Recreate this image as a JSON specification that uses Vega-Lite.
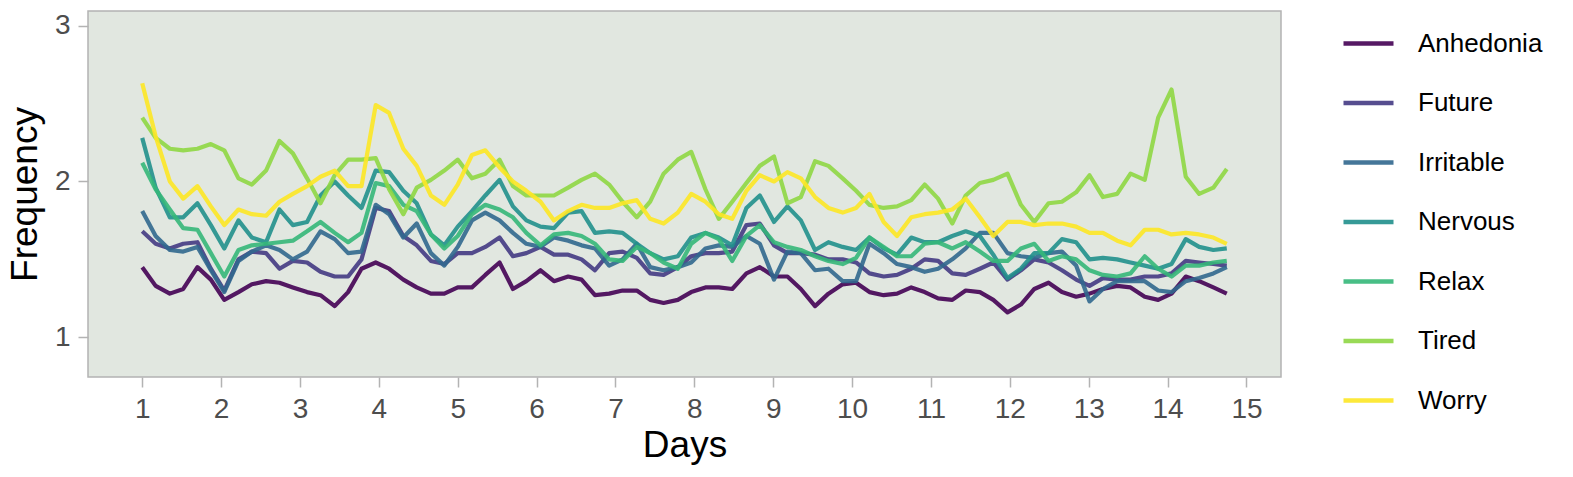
{
  "$schema": "https://vega.github.io/schema/vega-lite/v6.json",
  "width": 1193,
  "height": 366,
  "autosize": "none",
  "padding": {"left": 88, "top": 11, "right": 292, "bottom": 100},
  "background": "white",
  "config": {
    "font": "Liberation Sans",
    "view": {"fill": "#e1e7e0", "stroke": "#b3b3b3", "strokeWidth": 1.5}
  },
  "data": {"values": [
{"day":1.00,"item":"Anhedonia","freq":1.45},{"day":1.17,"item":"Anhedonia","freq":1.33},{"day":1.35,"item":"Anhedonia","freq":1.28},{"day":1.52,"item":"Anhedonia","freq":1.31},{"day":1.70,"item":"Anhedonia","freq":1.45},{"day":1.87,"item":"Anhedonia","freq":1.37},{"day":2.04,"item":"Anhedonia","freq":1.24},{"day":2.22,"item":"Anhedonia","freq":1.29},{"day":2.39,"item":"Anhedonia","freq":1.34},{"day":2.57,"item":"Anhedonia","freq":1.36},{"day":2.74,"item":"Anhedonia","freq":1.35},{"day":2.91,"item":"Anhedonia","freq":1.32},{"day":3.09,"item":"Anhedonia","freq":1.29},{"day":3.26,"item":"Anhedonia","freq":1.27},{"day":3.44,"item":"Anhedonia","freq":1.20},{"day":3.61,"item":"Anhedonia","freq":1.29},{"day":3.78,"item":"Anhedonia","freq":1.44},{"day":3.96,"item":"Anhedonia","freq":1.48},{"day":4.13,"item":"Anhedonia","freq":1.44},{"day":4.31,"item":"Anhedonia","freq":1.37},{"day":4.48,"item":"Anhedonia","freq":1.32},{"day":4.66,"item":"Anhedonia","freq":1.28},{"day":4.83,"item":"Anhedonia","freq":1.28},{"day":5.00,"item":"Anhedonia","freq":1.32},{"day":5.18,"item":"Anhedonia","freq":1.32},{"day":5.35,"item":"Anhedonia","freq":1.40},{"day":5.53,"item":"Anhedonia","freq":1.48},{"day":5.70,"item":"Anhedonia","freq":1.31},{"day":5.87,"item":"Anhedonia","freq":1.36},{"day":6.05,"item":"Anhedonia","freq":1.43},{"day":6.22,"item":"Anhedonia","freq":1.36},{"day":6.40,"item":"Anhedonia","freq":1.39},{"day":6.57,"item":"Anhedonia","freq":1.37},{"day":6.74,"item":"Anhedonia","freq":1.27},{"day":6.92,"item":"Anhedonia","freq":1.28},{"day":7.09,"item":"Anhedonia","freq":1.30},{"day":7.27,"item":"Anhedonia","freq":1.30},{"day":7.44,"item":"Anhedonia","freq":1.24},{"day":7.61,"item":"Anhedonia","freq":1.22},{"day":7.79,"item":"Anhedonia","freq":1.24},{"day":7.96,"item":"Anhedonia","freq":1.29},{"day":8.14,"item":"Anhedonia","freq":1.32},{"day":8.31,"item":"Anhedonia","freq":1.32},{"day":8.48,"item":"Anhedonia","freq":1.31},{"day":8.66,"item":"Anhedonia","freq":1.41},{"day":8.83,"item":"Anhedonia","freq":1.45},{"day":9.01,"item":"Anhedonia","freq":1.39},{"day":9.18,"item":"Anhedonia","freq":1.39},{"day":9.35,"item":"Anhedonia","freq":1.31},{"day":9.53,"item":"Anhedonia","freq":1.20},{"day":9.70,"item":"Anhedonia","freq":1.28},{"day":9.88,"item":"Anhedonia","freq":1.34},{"day":10.05,"item":"Anhedonia","freq":1.35},{"day":10.22,"item":"Anhedonia","freq":1.29},{"day":10.40,"item":"Anhedonia","freq":1.27},{"day":10.57,"item":"Anhedonia","freq":1.28},{"day":10.75,"item":"Anhedonia","freq":1.32},{"day":10.92,"item":"Anhedonia","freq":1.29},{"day":11.09,"item":"Anhedonia","freq":1.25},{"day":11.27,"item":"Anhedonia","freq":1.24},{"day":11.44,"item":"Anhedonia","freq":1.30},{"day":11.62,"item":"Anhedonia","freq":1.29},{"day":11.79,"item":"Anhedonia","freq":1.24},{"day":11.97,"item":"Anhedonia","freq":1.16},{"day":12.14,"item":"Anhedonia","freq":1.21},{"day":12.31,"item":"Anhedonia","freq":1.31},{"day":12.49,"item":"Anhedonia","freq":1.35},{"day":12.66,"item":"Anhedonia","freq":1.29},{"day":12.84,"item":"Anhedonia","freq":1.26},{"day":13.01,"item":"Anhedonia","freq":1.28},{"day":13.18,"item":"Anhedonia","freq":1.31},{"day":13.36,"item":"Anhedonia","freq":1.33},{"day":13.53,"item":"Anhedonia","freq":1.32},{"day":13.71,"item":"Anhedonia","freq":1.26},{"day":13.88,"item":"Anhedonia","freq":1.24},{"day":14.05,"item":"Anhedonia","freq":1.28},{"day":14.23,"item":"Anhedonia","freq":1.39},{"day":14.40,"item":"Anhedonia","freq":1.36},{"day":14.58,"item":"Anhedonia","freq":1.32},{"day":14.75,"item":"Anhedonia","freq":1.28},
{"day":1.00,"item":"Future","freq":1.68},{"day":1.17,"item":"Future","freq":1.60},{"day":1.35,"item":"Future","freq":1.57},{"day":1.52,"item":"Future","freq":1.60},{"day":1.70,"item":"Future","freq":1.61},{"day":1.87,"item":"Future","freq":1.44},{"day":2.04,"item":"Future","freq":1.30},{"day":2.22,"item":"Future","freq":1.50},{"day":2.39,"item":"Future","freq":1.55},{"day":2.57,"item":"Future","freq":1.54},{"day":2.74,"item":"Future","freq":1.44},{"day":2.91,"item":"Future","freq":1.49},{"day":3.09,"item":"Future","freq":1.48},{"day":3.26,"item":"Future","freq":1.42},{"day":3.44,"item":"Future","freq":1.39},{"day":3.61,"item":"Future","freq":1.39},{"day":3.78,"item":"Future","freq":1.50},{"day":3.96,"item":"Future","freq":1.83},{"day":4.13,"item":"Future","freq":1.81},{"day":4.31,"item":"Future","freq":1.65},{"day":4.48,"item":"Future","freq":1.59},{"day":4.66,"item":"Future","freq":1.49},{"day":4.83,"item":"Future","freq":1.47},{"day":5.00,"item":"Future","freq":1.54},{"day":5.18,"item":"Future","freq":1.54},{"day":5.35,"item":"Future","freq":1.58},{"day":5.53,"item":"Future","freq":1.64},{"day":5.70,"item":"Future","freq":1.52},{"day":5.87,"item":"Future","freq":1.54},{"day":6.05,"item":"Future","freq":1.58},{"day":6.22,"item":"Future","freq":1.53},{"day":6.40,"item":"Future","freq":1.53},{"day":6.57,"item":"Future","freq":1.50},{"day":6.74,"item":"Future","freq":1.43},{"day":6.92,"item":"Future","freq":1.54},{"day":7.09,"item":"Future","freq":1.55},{"day":7.27,"item":"Future","freq":1.51},{"day":7.44,"item":"Future","freq":1.41},{"day":7.61,"item":"Future","freq":1.40},{"day":7.79,"item":"Future","freq":1.45},{"day":7.96,"item":"Future","freq":1.52},{"day":8.14,"item":"Future","freq":1.54},{"day":8.31,"item":"Future","freq":1.54},{"day":8.48,"item":"Future","freq":1.55},{"day":8.66,"item":"Future","freq":1.72},{"day":8.83,"item":"Future","freq":1.73},{"day":9.01,"item":"Future","freq":1.59},{"day":9.18,"item":"Future","freq":1.54},{"day":9.35,"item":"Future","freq":1.54},{"day":9.53,"item":"Future","freq":1.53},{"day":9.70,"item":"Future","freq":1.50},{"day":9.88,"item":"Future","freq":1.50},{"day":10.05,"item":"Future","freq":1.48},{"day":10.22,"item":"Future","freq":1.41},{"day":10.40,"item":"Future","freq":1.39},{"day":10.57,"item":"Future","freq":1.40},{"day":10.75,"item":"Future","freq":1.44},{"day":10.92,"item":"Future","freq":1.50},{"day":11.09,"item":"Future","freq":1.49},{"day":11.27,"item":"Future","freq":1.41},{"day":11.44,"item":"Future","freq":1.40},{"day":11.62,"item":"Future","freq":1.44},{"day":11.79,"item":"Future","freq":1.48},{"day":11.97,"item":"Future","freq":1.37},{"day":12.14,"item":"Future","freq":1.43},{"day":12.31,"item":"Future","freq":1.50},{"day":12.49,"item":"Future","freq":1.48},{"day":12.66,"item":"Future","freq":1.43},{"day":12.84,"item":"Future","freq":1.37},{"day":13.01,"item":"Future","freq":1.33},{"day":13.18,"item":"Future","freq":1.38},{"day":13.36,"item":"Future","freq":1.37},{"day":13.53,"item":"Future","freq":1.37},{"day":13.71,"item":"Future","freq":1.39},{"day":13.88,"item":"Future","freq":1.39},{"day":14.05,"item":"Future","freq":1.41},{"day":14.23,"item":"Future","freq":1.49},{"day":14.40,"item":"Future","freq":1.48},{"day":14.58,"item":"Future","freq":1.47},{"day":14.75,"item":"Future","freq":1.46},
{"day":1.00,"item":"Irritable","freq":1.81},{"day":1.17,"item":"Irritable","freq":1.65},{"day":1.35,"item":"Irritable","freq":1.56},{"day":1.52,"item":"Irritable","freq":1.55},{"day":1.70,"item":"Irritable","freq":1.58},{"day":1.87,"item":"Irritable","freq":1.43},{"day":2.04,"item":"Irritable","freq":1.29},{"day":2.22,"item":"Irritable","freq":1.49},{"day":2.39,"item":"Irritable","freq":1.55},{"day":2.57,"item":"Irritable","freq":1.59},{"day":2.74,"item":"Irritable","freq":1.56},{"day":2.91,"item":"Irritable","freq":1.50},{"day":3.09,"item":"Irritable","freq":1.55},{"day":3.26,"item":"Irritable","freq":1.68},{"day":3.44,"item":"Irritable","freq":1.63},{"day":3.61,"item":"Irritable","freq":1.54},{"day":3.78,"item":"Irritable","freq":1.55},{"day":3.96,"item":"Irritable","freq":1.85},{"day":4.13,"item":"Irritable","freq":1.79},{"day":4.31,"item":"Irritable","freq":1.64},{"day":4.48,"item":"Irritable","freq":1.73},{"day":4.66,"item":"Irritable","freq":1.54},{"day":4.83,"item":"Irritable","freq":1.46},{"day":5.00,"item":"Irritable","freq":1.58},{"day":5.18,"item":"Irritable","freq":1.75},{"day":5.35,"item":"Irritable","freq":1.80},{"day":5.53,"item":"Irritable","freq":1.75},{"day":5.70,"item":"Irritable","freq":1.67},{"day":5.87,"item":"Irritable","freq":1.60},{"day":6.05,"item":"Irritable","freq":1.58},{"day":6.22,"item":"Irritable","freq":1.64},{"day":6.40,"item":"Irritable","freq":1.62},{"day":6.57,"item":"Irritable","freq":1.59},{"day":6.74,"item":"Irritable","freq":1.57},{"day":6.92,"item":"Irritable","freq":1.46},{"day":7.09,"item":"Irritable","freq":1.50},{"day":7.27,"item":"Irritable","freq":1.60},{"day":7.44,"item":"Irritable","freq":1.45},{"day":7.61,"item":"Irritable","freq":1.43},{"day":7.79,"item":"Irritable","freq":1.45},{"day":7.96,"item":"Irritable","freq":1.48},{"day":8.14,"item":"Irritable","freq":1.57},{"day":8.31,"item":"Irritable","freq":1.59},{"day":8.48,"item":"Irritable","freq":1.58},{"day":8.66,"item":"Irritable","freq":1.65},{"day":8.83,"item":"Irritable","freq":1.60},{"day":9.01,"item":"Irritable","freq":1.37},{"day":9.18,"item":"Irritable","freq":1.55},{"day":9.35,"item":"Irritable","freq":1.54},{"day":9.53,"item":"Irritable","freq":1.43},{"day":9.70,"item":"Irritable","freq":1.44},{"day":9.88,"item":"Irritable","freq":1.36},{"day":10.05,"item":"Irritable","freq":1.36},{"day":10.22,"item":"Irritable","freq":1.60},{"day":10.40,"item":"Irritable","freq":1.54},{"day":10.57,"item":"Irritable","freq":1.47},{"day":10.75,"item":"Irritable","freq":1.45},{"day":10.92,"item":"Irritable","freq":1.42},{"day":11.09,"item":"Irritable","freq":1.44},{"day":11.27,"item":"Irritable","freq":1.50},{"day":11.44,"item":"Irritable","freq":1.57},{"day":11.62,"item":"Irritable","freq":1.67},{"day":11.79,"item":"Irritable","freq":1.67},{"day":11.97,"item":"Irritable","freq":1.54},{"day":12.14,"item":"Irritable","freq":1.52},{"day":12.31,"item":"Irritable","freq":1.51},{"day":12.49,"item":"Irritable","freq":1.54},{"day":12.66,"item":"Irritable","freq":1.55},{"day":12.84,"item":"Irritable","freq":1.46},{"day":13.01,"item":"Irritable","freq":1.23},{"day":13.18,"item":"Irritable","freq":1.31},{"day":13.36,"item":"Irritable","freq":1.36},{"day":13.53,"item":"Irritable","freq":1.36},{"day":13.71,"item":"Irritable","freq":1.36},{"day":13.88,"item":"Irritable","freq":1.30},{"day":14.05,"item":"Irritable","freq":1.29},{"day":14.23,"item":"Irritable","freq":1.36},{"day":14.40,"item":"Irritable","freq":1.38},{"day":14.58,"item":"Irritable","freq":1.41},{"day":14.75,"item":"Irritable","freq":1.45},
{"day":1.00,"item":"Nervous","freq":2.28},{"day":1.17,"item":"Nervous","freq":1.96},{"day":1.35,"item":"Nervous","freq":1.77},{"day":1.52,"item":"Nervous","freq":1.77},{"day":1.70,"item":"Nervous","freq":1.86},{"day":1.87,"item":"Nervous","freq":1.72},{"day":2.04,"item":"Nervous","freq":1.57},{"day":2.22,"item":"Nervous","freq":1.75},{"day":2.39,"item":"Nervous","freq":1.64},{"day":2.57,"item":"Nervous","freq":1.61},{"day":2.74,"item":"Nervous","freq":1.82},{"day":2.91,"item":"Nervous","freq":1.72},{"day":3.09,"item":"Nervous","freq":1.74},{"day":3.26,"item":"Nervous","freq":1.91},{"day":3.44,"item":"Nervous","freq":2.00},{"day":3.61,"item":"Nervous","freq":1.91},{"day":3.78,"item":"Nervous","freq":1.83},{"day":3.96,"item":"Nervous","freq":2.07},{"day":4.13,"item":"Nervous","freq":2.06},{"day":4.31,"item":"Nervous","freq":1.94},{"day":4.48,"item":"Nervous","freq":1.86},{"day":4.66,"item":"Nervous","freq":1.66},{"day":4.83,"item":"Nervous","freq":1.59},{"day":5.00,"item":"Nervous","freq":1.71},{"day":5.18,"item":"Nervous","freq":1.81},{"day":5.35,"item":"Nervous","freq":1.91},{"day":5.53,"item":"Nervous","freq":2.01},{"day":5.70,"item":"Nervous","freq":1.84},{"day":5.87,"item":"Nervous","freq":1.75},{"day":6.05,"item":"Nervous","freq":1.71},{"day":6.22,"item":"Nervous","freq":1.70},{"day":6.40,"item":"Nervous","freq":1.80},{"day":6.57,"item":"Nervous","freq":1.81},{"day":6.74,"item":"Nervous","freq":1.67},{"day":6.92,"item":"Nervous","freq":1.68},{"day":7.09,"item":"Nervous","freq":1.67},{"day":7.27,"item":"Nervous","freq":1.60},{"day":7.44,"item":"Nervous","freq":1.54},{"day":7.61,"item":"Nervous","freq":1.50},{"day":7.79,"item":"Nervous","freq":1.52},{"day":7.96,"item":"Nervous","freq":1.64},{"day":8.14,"item":"Nervous","freq":1.67},{"day":8.31,"item":"Nervous","freq":1.64},{"day":8.48,"item":"Nervous","freq":1.59},{"day":8.66,"item":"Nervous","freq":1.83},{"day":8.83,"item":"Nervous","freq":1.91},{"day":9.01,"item":"Nervous","freq":1.74},{"day":9.18,"item":"Nervous","freq":1.84},{"day":9.35,"item":"Nervous","freq":1.75},{"day":9.53,"item":"Nervous","freq":1.56},{"day":9.70,"item":"Nervous","freq":1.61},{"day":9.88,"item":"Nervous","freq":1.58},{"day":10.05,"item":"Nervous","freq":1.56},{"day":10.22,"item":"Nervous","freq":1.64},{"day":10.40,"item":"Nervous","freq":1.57},{"day":10.57,"item":"Nervous","freq":1.53},{"day":10.75,"item":"Nervous","freq":1.64},{"day":10.92,"item":"Nervous","freq":1.61},{"day":11.09,"item":"Nervous","freq":1.61},{"day":11.27,"item":"Nervous","freq":1.65},{"day":11.44,"item":"Nervous","freq":1.68},{"day":11.62,"item":"Nervous","freq":1.65},{"day":11.79,"item":"Nervous","freq":1.53},{"day":11.97,"item":"Nervous","freq":1.38},{"day":12.14,"item":"Nervous","freq":1.44},{"day":12.31,"item":"Nervous","freq":1.54},{"day":12.49,"item":"Nervous","freq":1.54},{"day":12.66,"item":"Nervous","freq":1.63},{"day":12.84,"item":"Nervous","freq":1.61},{"day":13.01,"item":"Nervous","freq":1.50},{"day":13.18,"item":"Nervous","freq":1.51},{"day":13.36,"item":"Nervous","freq":1.50},{"day":13.53,"item":"Nervous","freq":1.48},{"day":13.71,"item":"Nervous","freq":1.46},{"day":13.88,"item":"Nervous","freq":1.44},{"day":14.05,"item":"Nervous","freq":1.47},{"day":14.23,"item":"Nervous","freq":1.63},{"day":14.40,"item":"Nervous","freq":1.58},{"day":14.58,"item":"Nervous","freq":1.56},{"day":14.75,"item":"Nervous","freq":1.57},
{"day":1.00,"item":"Relax","freq":2.12},{"day":1.17,"item":"Relax","freq":1.95},{"day":1.35,"item":"Relax","freq":1.82},{"day":1.52,"item":"Relax","freq":1.70},{"day":1.70,"item":"Relax","freq":1.69},{"day":1.87,"item":"Relax","freq":1.54},{"day":2.04,"item":"Relax","freq":1.39},{"day":2.22,"item":"Relax","freq":1.56},{"day":2.39,"item":"Relax","freq":1.59},{"day":2.57,"item":"Relax","freq":1.60},{"day":2.74,"item":"Relax","freq":1.61},{"day":2.91,"item":"Relax","freq":1.62},{"day":3.09,"item":"Relax","freq":1.68},{"day":3.26,"item":"Relax","freq":1.74},{"day":3.44,"item":"Relax","freq":1.67},{"day":3.61,"item":"Relax","freq":1.61},{"day":3.78,"item":"Relax","freq":1.67},{"day":3.96,"item":"Relax","freq":1.99},{"day":4.13,"item":"Relax","freq":1.97},{"day":4.31,"item":"Relax","freq":1.85},{"day":4.48,"item":"Relax","freq":1.81},{"day":4.66,"item":"Relax","freq":1.66},{"day":4.83,"item":"Relax","freq":1.57},{"day":5.00,"item":"Relax","freq":1.65},{"day":5.18,"item":"Relax","freq":1.79},{"day":5.35,"item":"Relax","freq":1.85},{"day":5.53,"item":"Relax","freq":1.82},{"day":5.70,"item":"Relax","freq":1.77},{"day":5.87,"item":"Relax","freq":1.67},{"day":6.05,"item":"Relax","freq":1.59},{"day":6.22,"item":"Relax","freq":1.66},{"day":6.40,"item":"Relax","freq":1.67},{"day":6.57,"item":"Relax","freq":1.65},{"day":6.74,"item":"Relax","freq":1.60},{"day":6.92,"item":"Relax","freq":1.50},{"day":7.09,"item":"Relax","freq":1.49},{"day":7.27,"item":"Relax","freq":1.58},{"day":7.44,"item":"Relax","freq":1.54},{"day":7.61,"item":"Relax","freq":1.48},{"day":7.79,"item":"Relax","freq":1.44},{"day":7.96,"item":"Relax","freq":1.60},{"day":8.14,"item":"Relax","freq":1.67},{"day":8.31,"item":"Relax","freq":1.63},{"day":8.48,"item":"Relax","freq":1.49},{"day":8.66,"item":"Relax","freq":1.65},{"day":8.83,"item":"Relax","freq":1.72},{"day":9.01,"item":"Relax","freq":1.61},{"day":9.18,"item":"Relax","freq":1.58},{"day":9.35,"item":"Relax","freq":1.56},{"day":9.53,"item":"Relax","freq":1.52},{"day":9.70,"item":"Relax","freq":1.49},{"day":9.88,"item":"Relax","freq":1.47},{"day":10.05,"item":"Relax","freq":1.51},{"day":10.22,"item":"Relax","freq":1.64},{"day":10.40,"item":"Relax","freq":1.58},{"day":10.57,"item":"Relax","freq":1.52},{"day":10.75,"item":"Relax","freq":1.52},{"day":10.92,"item":"Relax","freq":1.60},{"day":11.09,"item":"Relax","freq":1.61},{"day":11.27,"item":"Relax","freq":1.57},{"day":11.44,"item":"Relax","freq":1.61},{"day":11.62,"item":"Relax","freq":1.55},{"day":11.79,"item":"Relax","freq":1.49},{"day":11.97,"item":"Relax","freq":1.49},{"day":12.14,"item":"Relax","freq":1.57},{"day":12.31,"item":"Relax","freq":1.60},{"day":12.49,"item":"Relax","freq":1.49},{"day":12.66,"item":"Relax","freq":1.52},{"day":12.84,"item":"Relax","freq":1.50},{"day":13.01,"item":"Relax","freq":1.43},{"day":13.18,"item":"Relax","freq":1.40},{"day":13.36,"item":"Relax","freq":1.39},{"day":13.53,"item":"Relax","freq":1.41},{"day":13.71,"item":"Relax","freq":1.52},{"day":13.88,"item":"Relax","freq":1.44},{"day":14.05,"item":"Relax","freq":1.39},{"day":14.23,"item":"Relax","freq":1.46},{"day":14.40,"item":"Relax","freq":1.46},{"day":14.58,"item":"Relax","freq":1.48},{"day":14.75,"item":"Relax","freq":1.49},
{"day":1.00,"item":"Tired","freq":2.41},{"day":1.17,"item":"Tired","freq":2.28},{"day":1.35,"item":"Tired","freq":2.21},{"day":1.52,"item":"Tired","freq":2.20},{"day":1.70,"item":"Tired","freq":2.21},{"day":1.87,"item":"Tired","freq":2.24},{"day":2.04,"item":"Tired","freq":2.20},{"day":2.22,"item":"Tired","freq":2.02},{"day":2.39,"item":"Tired","freq":1.98},{"day":2.57,"item":"Tired","freq":2.07},{"day":2.74,"item":"Tired","freq":2.26},{"day":2.91,"item":"Tired","freq":2.18},{"day":3.09,"item":"Tired","freq":2.02},{"day":3.26,"item":"Tired","freq":1.86},{"day":3.44,"item":"Tired","freq":2.04},{"day":3.61,"item":"Tired","freq":2.14},{"day":3.78,"item":"Tired","freq":2.14},{"day":3.96,"item":"Tired","freq":2.15},{"day":4.13,"item":"Tired","freq":1.95},{"day":4.31,"item":"Tired","freq":1.79},{"day":4.48,"item":"Tired","freq":1.96},{"day":4.66,"item":"Tired","freq":2.01},{"day":4.83,"item":"Tired","freq":2.07},{"day":5.00,"item":"Tired","freq":2.14},{"day":5.18,"item":"Tired","freq":2.02},{"day":5.35,"item":"Tired","freq":2.05},{"day":5.53,"item":"Tired","freq":2.14},{"day":5.70,"item":"Tired","freq":1.97},{"day":5.87,"item":"Tired","freq":1.91},{"day":6.05,"item":"Tired","freq":1.91},{"day":6.22,"item":"Tired","freq":1.91},{"day":6.40,"item":"Tired","freq":1.96},{"day":6.57,"item":"Tired","freq":2.01},{"day":6.74,"item":"Tired","freq":2.05},{"day":6.92,"item":"Tired","freq":1.98},{"day":7.09,"item":"Tired","freq":1.87},{"day":7.27,"item":"Tired","freq":1.77},{"day":7.44,"item":"Tired","freq":1.87},{"day":7.61,"item":"Tired","freq":2.05},{"day":7.79,"item":"Tired","freq":2.14},{"day":7.96,"item":"Tired","freq":2.19},{"day":8.14,"item":"Tired","freq":1.95},{"day":8.31,"item":"Tired","freq":1.76},{"day":8.48,"item":"Tired","freq":1.87},{"day":8.66,"item":"Tired","freq":1.99},{"day":8.83,"item":"Tired","freq":2.10},{"day":9.01,"item":"Tired","freq":2.16},{"day":9.18,"item":"Tired","freq":1.86},{"day":9.35,"item":"Tired","freq":1.90},{"day":9.53,"item":"Tired","freq":2.13},{"day":9.70,"item":"Tired","freq":2.10},{"day":9.88,"item":"Tired","freq":2.02},{"day":10.05,"item":"Tired","freq":1.94},{"day":10.22,"item":"Tired","freq":1.85},{"day":10.40,"item":"Tired","freq":1.83},{"day":10.57,"item":"Tired","freq":1.84},{"day":10.75,"item":"Tired","freq":1.88},{"day":10.92,"item":"Tired","freq":1.98},{"day":11.09,"item":"Tired","freq":1.89},{"day":11.27,"item":"Tired","freq":1.73},{"day":11.44,"item":"Tired","freq":1.91},{"day":11.62,"item":"Tired","freq":1.99},{"day":11.79,"item":"Tired","freq":2.01},{"day":11.97,"item":"Tired","freq":2.05},{"day":12.14,"item":"Tired","freq":1.85},{"day":12.31,"item":"Tired","freq":1.74},{"day":12.49,"item":"Tired","freq":1.86},{"day":12.66,"item":"Tired","freq":1.87},{"day":12.84,"item":"Tired","freq":1.93},{"day":13.01,"item":"Tired","freq":2.04},{"day":13.18,"item":"Tired","freq":1.90},{"day":13.36,"item":"Tired","freq":1.92},{"day":13.53,"item":"Tired","freq":2.05},{"day":13.71,"item":"Tired","freq":2.01},{"day":13.88,"item":"Tired","freq":2.41},{"day":14.05,"item":"Tired","freq":2.59},{"day":14.23,"item":"Tired","freq":2.03},{"day":14.40,"item":"Tired","freq":1.92},{"day":14.58,"item":"Tired","freq":1.96},{"day":14.75,"item":"Tired","freq":2.08},
{"day":1.00,"item":"Worry","freq":2.63},{"day":1.17,"item":"Worry","freq":2.29},{"day":1.35,"item":"Worry","freq":2.00},{"day":1.52,"item":"Worry","freq":1.89},{"day":1.70,"item":"Worry","freq":1.97},{"day":1.87,"item":"Worry","freq":1.84},{"day":2.04,"item":"Worry","freq":1.72},{"day":2.22,"item":"Worry","freq":1.82},{"day":2.39,"item":"Worry","freq":1.79},{"day":2.57,"item":"Worry","freq":1.78},{"day":2.74,"item":"Worry","freq":1.87},{"day":2.91,"item":"Worry","freq":1.92},{"day":3.09,"item":"Worry","freq":1.97},{"day":3.26,"item":"Worry","freq":2.03},{"day":3.44,"item":"Worry","freq":2.07},{"day":3.61,"item":"Worry","freq":1.97},{"day":3.78,"item":"Worry","freq":1.97},{"day":3.96,"item":"Worry","freq":2.49},{"day":4.13,"item":"Worry","freq":2.44},{"day":4.31,"item":"Worry","freq":2.21},{"day":4.48,"item":"Worry","freq":2.10},{"day":4.66,"item":"Worry","freq":1.91},{"day":4.83,"item":"Worry","freq":1.85},{"day":5.00,"item":"Worry","freq":1.98},{"day":5.18,"item":"Worry","freq":2.17},{"day":5.35,"item":"Worry","freq":2.20},{"day":5.53,"item":"Worry","freq":2.09},{"day":5.70,"item":"Worry","freq":2.00},{"day":5.87,"item":"Worry","freq":1.94},{"day":6.05,"item":"Worry","freq":1.87},{"day":6.22,"item":"Worry","freq":1.75},{"day":6.40,"item":"Worry","freq":1.81},{"day":6.57,"item":"Worry","freq":1.85},{"day":6.74,"item":"Worry","freq":1.83},{"day":6.92,"item":"Worry","freq":1.83},{"day":7.09,"item":"Worry","freq":1.86},{"day":7.27,"item":"Worry","freq":1.88},{"day":7.44,"item":"Worry","freq":1.76},{"day":7.61,"item":"Worry","freq":1.73},{"day":7.79,"item":"Worry","freq":1.80},{"day":7.96,"item":"Worry","freq":1.92},{"day":8.14,"item":"Worry","freq":1.87},{"day":8.31,"item":"Worry","freq":1.79},{"day":8.48,"item":"Worry","freq":1.76},{"day":8.66,"item":"Worry","freq":1.94},{"day":8.83,"item":"Worry","freq":2.04},{"day":9.01,"item":"Worry","freq":2.00},{"day":9.18,"item":"Worry","freq":2.06},{"day":9.35,"item":"Worry","freq":2.02},{"day":9.53,"item":"Worry","freq":1.90},{"day":9.70,"item":"Worry","freq":1.83},{"day":9.88,"item":"Worry","freq":1.80},{"day":10.05,"item":"Worry","freq":1.83},{"day":10.22,"item":"Worry","freq":1.92},{"day":10.40,"item":"Worry","freq":1.74},{"day":10.57,"item":"Worry","freq":1.65},{"day":10.75,"item":"Worry","freq":1.77},{"day":10.92,"item":"Worry","freq":1.79},{"day":11.09,"item":"Worry","freq":1.80},{"day":11.27,"item":"Worry","freq":1.82},{"day":11.44,"item":"Worry","freq":1.89},{"day":11.62,"item":"Worry","freq":1.77},{"day":11.79,"item":"Worry","freq":1.65},{"day":11.97,"item":"Worry","freq":1.74},{"day":12.14,"item":"Worry","freq":1.74},{"day":12.31,"item":"Worry","freq":1.72},{"day":12.49,"item":"Worry","freq":1.73},{"day":12.66,"item":"Worry","freq":1.73},{"day":12.84,"item":"Worry","freq":1.71},{"day":13.01,"item":"Worry","freq":1.67},{"day":13.18,"item":"Worry","freq":1.67},{"day":13.36,"item":"Worry","freq":1.62},{"day":13.53,"item":"Worry","freq":1.59},{"day":13.71,"item":"Worry","freq":1.69},{"day":13.88,"item":"Worry","freq":1.69},{"day":14.05,"item":"Worry","freq":1.66},{"day":14.23,"item":"Worry","freq":1.67},{"day":14.40,"item":"Worry","freq":1.66},{"day":14.58,"item":"Worry","freq":1.64},{"day":14.75,"item":"Worry","freq":1.60}
  ]},
  "mark": {"type": "line", "strokeWidth": 4.2, "opacity": 0.9, "strokeJoin": "round"},
  "encoding": {
    "x": {
      "field": "day",
      "type": "quantitative",
      "title": "Days",
      "scale": {"domain": [0.3125, 15.4375], "nice": false, "zero": false},
      "axis": {
        "values": [1, 2, 3, 4, 5, 6, 7, 8, 9, 10, 11, 12, 13, 14, 15],
        "grid": false, "domain": false,
        "tickColor": "#b3b3b3", "tickWidth": 1.5, "tickSize": 10,
        "labelFontSize": 28, "labelColor": "#4d4d4d", "labelPadding": 8,
        "titleFontSize": 37, "titleFontWeight": "normal", "titleColor": "black", "titlePadding": 4
      }
    },
    "y": {
      "field": "freq",
      "type": "quantitative",
      "title": "Frequency",
      "scale": {"domain": [0.745, 3.094], "nice": false, "zero": false},
      "axis": {
        "values": [1, 2, 3],
        "grid": false, "domain": false,
        "tickColor": "#b3b3b3", "tickWidth": 1.5, "tickSize": 10,
        "labelFontSize": 28, "labelColor": "#4d4d4d", "labelPadding": 8,
        "titleFontSize": 37, "titleFontWeight": "normal", "titleColor": "black", "titlePadding": 10
      }
    },
    "color": {
      "field": "item",
      "type": "nominal",
      "scale": {
        "domain": ["Anhedonia", "Future", "Irritable", "Nervous", "Relax", "Tired", "Worry"],
        "range": ["#440154", "#443a83", "#31688e", "#21908c", "#35b779", "#8fd744", "#fde725"]
      },
      "legend": {
        "title": null,
        "orient": "none",
        "legendX": 1253,
        "legendY": 5,
        "padding": 0,
        "symbolType": "stroke",
        "symbolSize": 2500,
        "symbolStrokeWidth": 4.5,
        "labelFontSize": 26,
        "labelColor": "black",
        "labelOffset": 22,
        "rowPadding": 18.5
      }
    }
  }
}
